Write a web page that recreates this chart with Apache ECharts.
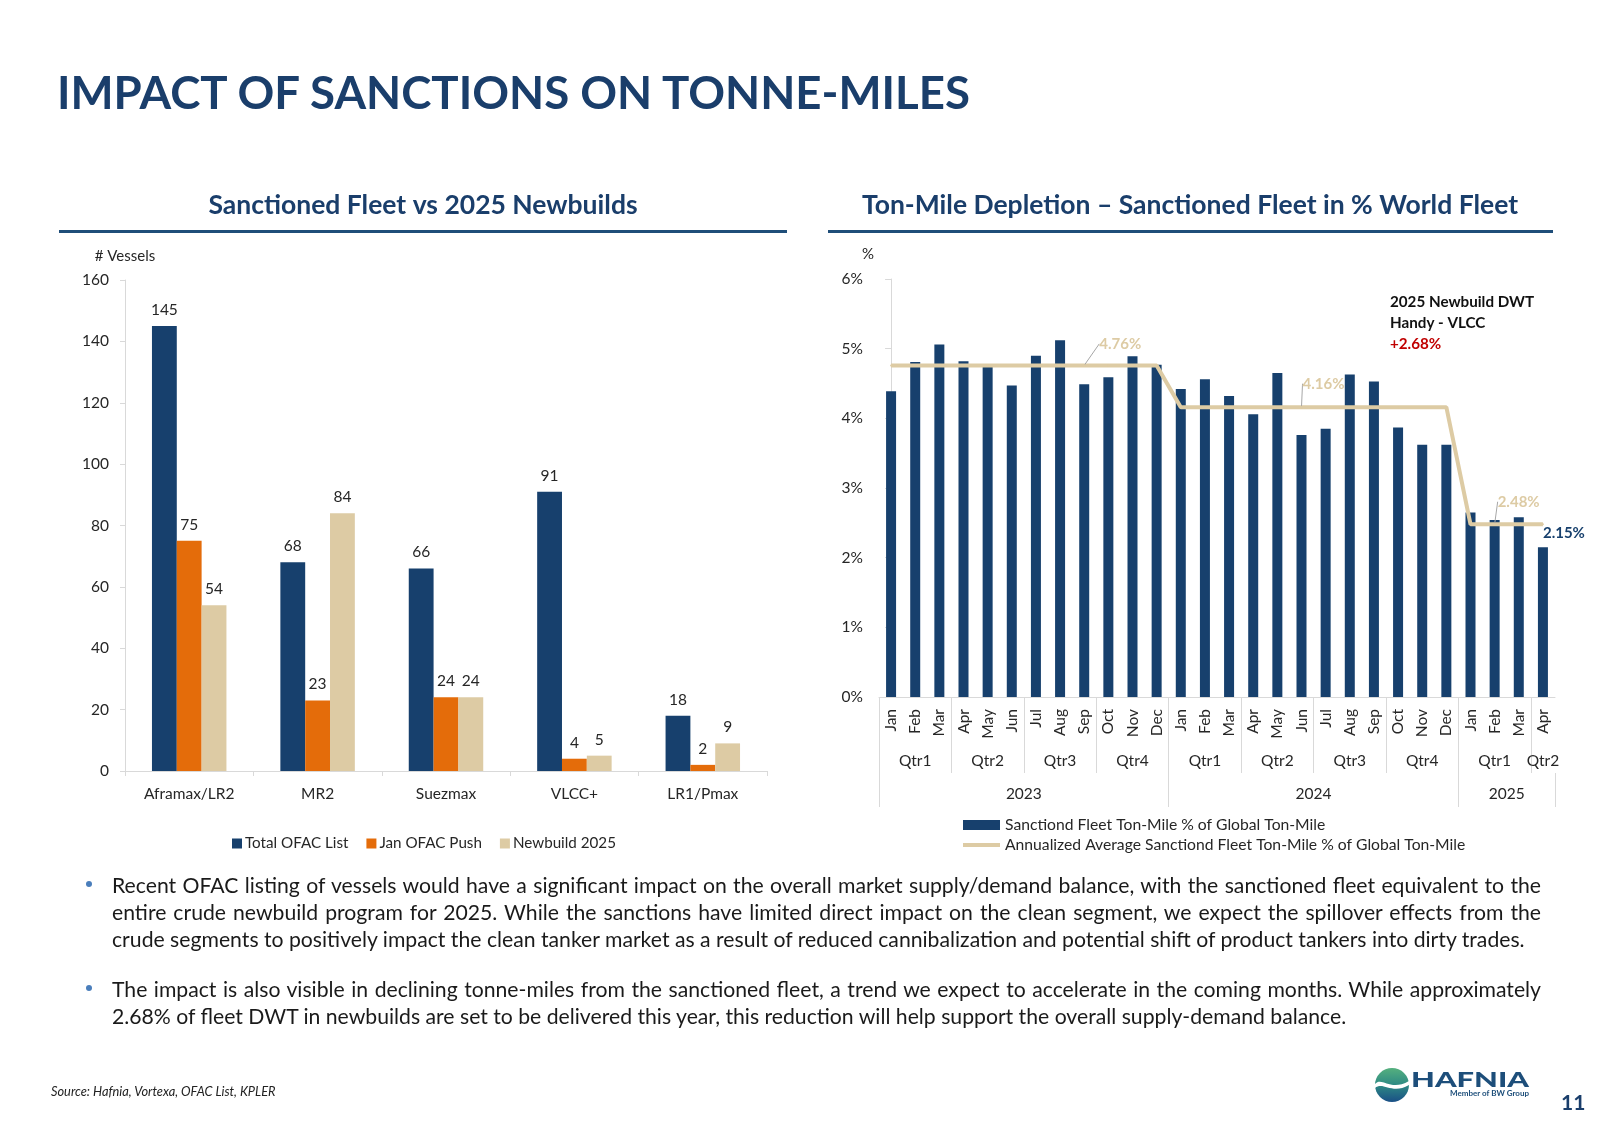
<!DOCTYPE html>
<html>
<head>
<meta charset="utf-8">
<script src="https://cdn.jsdelivr.net/npm/echarts@6/dist/echarts.min.js"></script>
<style>
  html, body { margin:0; padding:0; background:#fff; }
  body { width:1600px; height:1131px; position:relative; overflow:hidden; font-family: Lato, "Noto Sans", sans-serif; }
  #chart { position:absolute; left:0; top:0; width:1600px; height:1131px; }
  .main-title { position:absolute; left:57px; top:64px; font-family: Lato, sans-serif; font-weight:700; font-size:46px; line-height:56px; color:#1A3E6B; white-space:nowrap; transform-origin:0 50%; }
  .para { position:absolute; left:112px; width:1429px; font-size:21.2px; line-height:27px; color:#1a1a1a; }
  .para .ln { white-space:nowrap; text-align:justify; text-align-last:justify; }
  .para .ln.last { text-align:left; text-align-last:left; }
  .dot { position:absolute; width:6px; height:6px; border-radius:3px; background:#4A7EBB; }
  .source { position:absolute; left:51px; top:1083px; font-size:12.8px; font-style:italic; color:#222; white-space:nowrap; }
  .pgnum { position:absolute; left:1561px; top:1089px; font-size:21px; font-weight:700; color:#1A3E6B; }
</style>
</head>
<body>
<div id="chart"></div>
<div class="main-title" id="mainTitle">IMPACT OF SANCTIONS ON TONNE-MILES</div>

<div class="dot" style="left:86px; top:881px;"></div>
<div class="para" style="top:872px;">
  <div class="ln">Recent OFAC listing of vessels would have a significant impact on the overall market supply/demand balance, with the sanctioned fleet equivalent to the</div>
  <div class="ln">entire crude newbuild program for 2025. While the sanctions have limited direct impact on the clean segment, we expect the spillover effects from the</div>
  <div class="ln last">crude segments to positively impact the clean tanker market as a result of reduced cannibalization and potential shift of product tankers into dirty trades.</div>
</div>
<div class="dot" style="left:86px; top:985px;"></div>
<div class="para" style="top:976px;">
  <div class="ln">The impact is also visible in declining tonne-miles from the sanctioned fleet, a trend we expect to accelerate in the coming months. While approximately</div>
  <div class="ln last">2.68% of fleet DWT in newbuilds are set to be delivered this year, this reduction will help support the overall supply-demand balance.</div>
</div>

<div class="source">Source: Hafnia, Vortexa, OFAC List, KPLER</div>

<svg style="position:absolute; left:1370px; top:1062px;" width="170" height="48" viewBox="0 0 170 48">
  <defs>
    <linearGradient id="lg" x1="0" y1="0" x2="0" y2="1">
      <stop offset="0" stop-color="#55B07E"/>
      <stop offset="0.5" stop-color="#2E8A84"/>
      <stop offset="1" stop-color="#1A4F86"/>
    </linearGradient>
  </defs>
  <circle cx="22" cy="23" r="17" fill="url(#lg)"/>
  <path d="M5 22 C 12 14, 20 30, 39 19 L 39 23 C 22 33, 13 19, 5 26 Z" fill="#fff"/>
  <text x="41" y="25" font-family="Lato, sans-serif" font-weight="900" font-size="21" textLength="118" lengthAdjust="spacingAndGlyphs" fill="#1D4E7A">HAFNIA</text>
  <text x="80" y="34" font-family="Lato, sans-serif" font-weight="700" font-size="8" textLength="79" lengthAdjust="spacingAndGlyphs" fill="#1D4E7A">Member of BW Group</text>
</svg>
<div class="pgnum">11</div>

<script>
// ---------------- DATA ----------------
// Left chart: Sanctioned Fleet vs 2025 Newbuilds
const vesselClasses = ['Aframax/LR2', 'MR2', 'Suezmax', 'VLCC+', 'LR1/Pmax'];
const totalOfacList = [145, 68, 66, 91, 18];
const janOfacPush   = [75, 23, 24, 4, 2];
const newbuild2025  = [54, 84, 24, 5, 9];
const vesselTicks   = { min: 0, max: 160, interval: 20 };

// Right chart: Ton-Mile Depletion
const tmMonths   = ['Jan','Feb','Mar','Apr','May','Jun','Jul','Aug','Sep','Oct','Nov','Dec',
                    'Jan','Feb','Mar','Apr','May','Jun','Jul','Aug','Sep','Oct','Nov','Dec',
                    'Jan','Feb','Mar','Apr'];
const tmQuarters = ['Qtr1','Qtr1','Qtr1','Qtr2','Qtr2','Qtr2','Qtr3','Qtr3','Qtr3','Qtr4','Qtr4','Qtr4',
                    'Qtr1','Qtr1','Qtr1','Qtr2','Qtr2','Qtr2','Qtr3','Qtr3','Qtr3','Qtr4','Qtr4','Qtr4',
                    'Qtr1','Qtr1','Qtr1','Qtr2'];
const tmYears    = ['2023','2023','2023','2023','2023','2023','2023','2023','2023','2023','2023','2023',
                    '2024','2024','2024','2024','2024','2024','2024','2024','2024','2024','2024','2024',
                    '2025','2025','2025','2025'];
const tmSanctioned = [4.39, 4.81, 5.06, 4.82, 4.75, 4.47, 4.90, 5.12, 4.49, 4.59, 4.89, 4.77,
                      4.42, 4.56, 4.32, 4.06, 4.65, 3.76, 3.85, 4.63, 4.53, 3.87, 3.62, 3.62,
                      2.65, 2.54, 2.58, 2.15];
const tmAnnualAvg  = [4.76, 4.76, 4.76, 4.76, 4.76, 4.76, 4.76, 4.76, 4.76, 4.76, 4.76, 4.76,
                      4.16, 4.16, 4.16, 4.16, 4.16, 4.16, 4.16, 4.16, 4.16, 4.16, 4.16, 4.16,
                      2.48, 2.48, 2.48, 2.48];
const tmAvgLabelAt  = [8, 17, 25];   // months whose average value is labelled
const tmBarLabelAt  = [27];          // latest month labelled
const pctTicks = { min: 0, max: 6, interval: 1 };

// ---------------- HELPERS ----------------
function groupRuns(keys) {
  const runs = [];
  keys.forEach((k, i) => {
    const last = runs[runs.length - 1];
    if (last && last.key === k) last.end = i;
    else runs.push({ key: k, start: i, end: i });
  });
  return runs;
}
const quarterRuns = groupRuns(tmQuarters.map((q, i) => tmYears[i] + '|' + q));
const yearRuns = groupRuns(tmYears);
const quarterCenters = quarterRuns.map(r => (r.start + r.end) / 2);
const quarterNameAt = {}; quarterRuns.forEach(r => { quarterNameAt[(r.start + r.end) / 2] = r.key.split('|')[1]; });
const quarterBounds = quarterRuns.map(r => r.start - 0.5);
const yearCenters = yearRuns.map(r => (r.start + r.end) / 2);
const yearNameAt = {}; yearRuns.forEach(r => { yearNameAt[(r.start + r.end) / 2] = r.key; });
const yearBounds = yearRuns.map(r => r.start - 0.5).concat([tmMonths.length - 0.5]);

// ---------------- STYLE ----------------
const FONT = 'Lato';
const NAVY = '#17406D';
const ORANGE = '#E46C0A';
const TAN = '#DDCBA4';
const AXIS = '#D9D9D9';
const TXT = '#262626';
const TITLE = '#1A3E6B';
const FS = 15.5;

// fit main title to the reference width
(function () {
  const el = document.getElementById('mainTitle');
  const w = el.getBoundingClientRect().width;
  el.style.transform = 'scaleX(' + (913 / w) + ')';
})();

const chart = echarts.init(document.getElementById('chart'), null, { renderer: 'canvas' });

// label offsets (dx, dy) for the average-line labels
const avgLabelShift = [
  { dx: 36, dy: -8 },
  { dx: 22, dy: -10 },
  { dx: 24, dy: -9 }
];

const option = {
  animation: false,
  textStyle: { fontFamily: FONT },
  title: [
    { text: 'Sanctioned Fleet vs 2025 Newbuilds', left: 423, top: 192, textAlign: 'center', padding: 0,
      textStyle: { fontFamily: FONT, fontWeight: 'bold', fontSize: 26.5, color: TITLE } },
    { text: 'Ton-Mile Depletion \u2013 Sanctioned Fleet in % World Fleet', left: 1190, top: 192, textAlign: 'center', padding: 0,
      textStyle: { fontFamily: FONT, fontWeight: 'bold', fontSize: 26.5, color: TITLE } }
  ],
  graphic: [
    { type: 'rect', shape: { x: 59, y: 230, width: 728, height: 3 }, style: { fill: '#1F4E79' } },
    { type: 'rect', shape: { x: 828, y: 230, width: 725, height: 3 }, style: { fill: '#1F4E79' } },
    { type: 'text', left: 862, top: 247, style: { text: '%', fontFamily: FONT, fontSize: 15, fill: TXT } },
    { type: 'text', left: 1390, top: 295, style: { text: '2025 Newbuild DWT', fontFamily: FONT, fontWeight: 'bold', fontSize: 15.2, fill: '#111' } },
    { type: 'text', left: 1390, top: 316, style: { text: 'Handy - VLCC', fontFamily: FONT, fontWeight: 'bold', fontSize: 15.2, fill: '#111' } },
    { type: 'text', left: 1390, top: 337, style: { text: '+2.68%', fontFamily: FONT, fontWeight: 'bold', fontSize: 15.2, fill: '#C00000' } }
  ],
  legend: [
    { left: 227, top: 831, itemWidth: 10, itemHeight: 10, itemGap: 18, icon: 'rect',
      data: ['Total OFAC List', 'Jan OFAC Push', 'Newbuild 2025'],
      textStyle: { fontFamily: FONT, fontSize: 15.2, color: TXT, padding: [0, 0, 0, -2] } },
    { left: 956, top: 812, orient: 'vertical', itemWidth: 37, itemHeight: 10, itemGap: 4,
      data: [
        { name: 'Sanctiond Fleet Ton-Mile % of Global Ton-Mile', icon: 'rect' },
        { name: 'Annualized Average Sanctiond Fleet Ton-Mile % of Global Ton-Mile',
          itemStyle: { opacity: 0 }, lineStyle: { width: 4, color: TAN, opacity: 1 } }
      ],
      textStyle: { fontFamily: FONT, fontSize: 15.7, color: TXT } }
  ],
  grid: [
    { left: 125, top: 280, width: 642, height: 491 },
    { left: 879, top: 279, width: 676, height: 418 }
  ],
  xAxis: [
    { gridIndex: 0, type: 'category', data: vesselClasses,
      axisLine: { lineStyle: { color: AXIS } },
      axisTick: { show: true, length: 5, lineStyle: { color: AXIS } },
      axisLabel: { fontFamily: FONT, fontSize: FS, color: TXT, margin: 15 } },
    { gridIndex: 1, type: 'category', data: tmMonths,
      axisLine: { lineStyle: { color: AXIS } },
      axisTick: { show: false },
      axisLabel: { interval: 0, rotate: 90, fontFamily: FONT, fontSize: FS, color: TXT, margin: 12 } },
    { gridIndex: 1, type: 'value', position: 'bottom', min: -0.5, max: tmMonths.length - 0.5,
      axisLine: { show: false }, splitLine: { show: false },
      axisTick: { show: true, customValues: quarterBounds, length: 76, lineStyle: { color: AXIS } },
      axisLabel: { customValues: quarterCenters, formatter: v => quarterNameAt[v] || '',
                   fontFamily: FONT, fontSize: FS, color: TXT, margin: 56 } },
    { gridIndex: 1, type: 'value', position: 'bottom', offset: 76, min: -0.5, max: tmMonths.length - 0.5,
      axisLine: { show: false }, splitLine: { show: false },
      axisTick: { show: true, customValues: yearBounds, length: 34, lineStyle: { color: AXIS } },
      axisLabel: { customValues: yearCenters, formatter: v => yearNameAt[v] || '',
                   fontFamily: FONT, fontSize: FS, color: TXT, margin: 13 } }
  ],
  yAxis: [
    { gridIndex: 0, type: 'value', min: vesselTicks.min, max: vesselTicks.max, interval: vesselTicks.interval,
      name: '# Vessels', nameLocation: 'end', nameGap: 16,
      nameTextStyle: { fontFamily: FONT, fontSize: 15, color: TXT, align: 'center' },
      axisLine: { show: true, lineStyle: { color: AXIS } },
      axisTick: { show: true, length: 5, lineStyle: { color: AXIS } },
      splitLine: { show: false },
      axisLabel: { fontFamily: FONT, fontSize: FS, color: TXT, margin: 16 } },
    { gridIndex: 1, type: 'value', min: pctTicks.min, max: pctTicks.max, interval: pctTicks.interval,
      axisLine: { show: true, lineStyle: { color: AXIS } },
      axisTick: { show: true, length: 6, lineStyle: { color: AXIS } },
      splitLine: { show: false },
      axisLabel: { fontFamily: FONT, fontSize: FS, color: TXT, margin: 16, formatter: '{value}%' } }
  ],
  series: [
    { name: 'Total OFAC List', type: 'bar', xAxisIndex: 0, yAxisIndex: 0, data: totalOfacList,
      itemStyle: { color: NAVY }, barGap: '0%', barCategoryGap: '42%',
      label: { show: true, position: 'top', distance: 8, fontFamily: FONT, fontSize: FS, color: TXT } },
    { name: 'Jan OFAC Push', type: 'bar', xAxisIndex: 0, yAxisIndex: 0, data: janOfacPush,
      itemStyle: { color: ORANGE }, barGap: '0%', barCategoryGap: '42%',
      label: { show: true, position: 'top', distance: 8, fontFamily: FONT, fontSize: FS, color: TXT } },
    { name: 'Newbuild 2025', type: 'bar', xAxisIndex: 0, yAxisIndex: 0, data: newbuild2025,
      itemStyle: { color: TAN }, barGap: '0%', barCategoryGap: '42%',
      label: { show: true, position: 'top', distance: 8, fontFamily: FONT, fontSize: FS, color: TXT } },
    { name: 'Sanctiond Fleet Ton-Mile % of Global Ton-Mile', type: 'bar', xAxisIndex: 1, yAxisIndex: 1,
      barWidth: 10, itemStyle: { color: NAVY },
      data: tmSanctioned.map((v, i) => tmBarLabelAt.includes(i)
        ? { value: v, label: { show: true, position: 'top', distance: 4, offset: [21, -3],
            formatter: p => p.value.toFixed(2) + '%', fontFamily: FONT, fontWeight: 'bold', fontSize: 15, color: NAVY } }
        : v) },
    { name: 'Annualized Average Sanctiond Fleet Ton-Mile % of Global Ton-Mile', type: 'line', xAxisIndex: 1, yAxisIndex: 1,
      symbol: 'circle', symbolSize: 2, showSymbol: true, showAllSymbol: true, z: 5,
      lineStyle: { color: TAN, width: 4 }, itemStyle: { color: TAN },
      label: { show: false },
      labelLine: { show: true, lineStyle: { color: '#A6A6A6', width: 1 } },
      labelLayout: function (p) {
        const k = tmAvgLabelAt.indexOf(p.dataIndex);
        if (k < 0) return {};
        return { dx: avgLabelShift[k].dx, dy: avgLabelShift[k].dy };
      },
      data: tmAnnualAvg.map((v, i) => tmAvgLabelAt.includes(i)
        ? { value: v, label: { show: true, position: 'top', formatter: p => p.value.toFixed(2) + '%',
            fontFamily: FONT, fontWeight: 'bold', fontSize: 15, color: TAN } }
        : v) }
  ]
};

chart.setOption(option);
</script>
</body>
</html>
